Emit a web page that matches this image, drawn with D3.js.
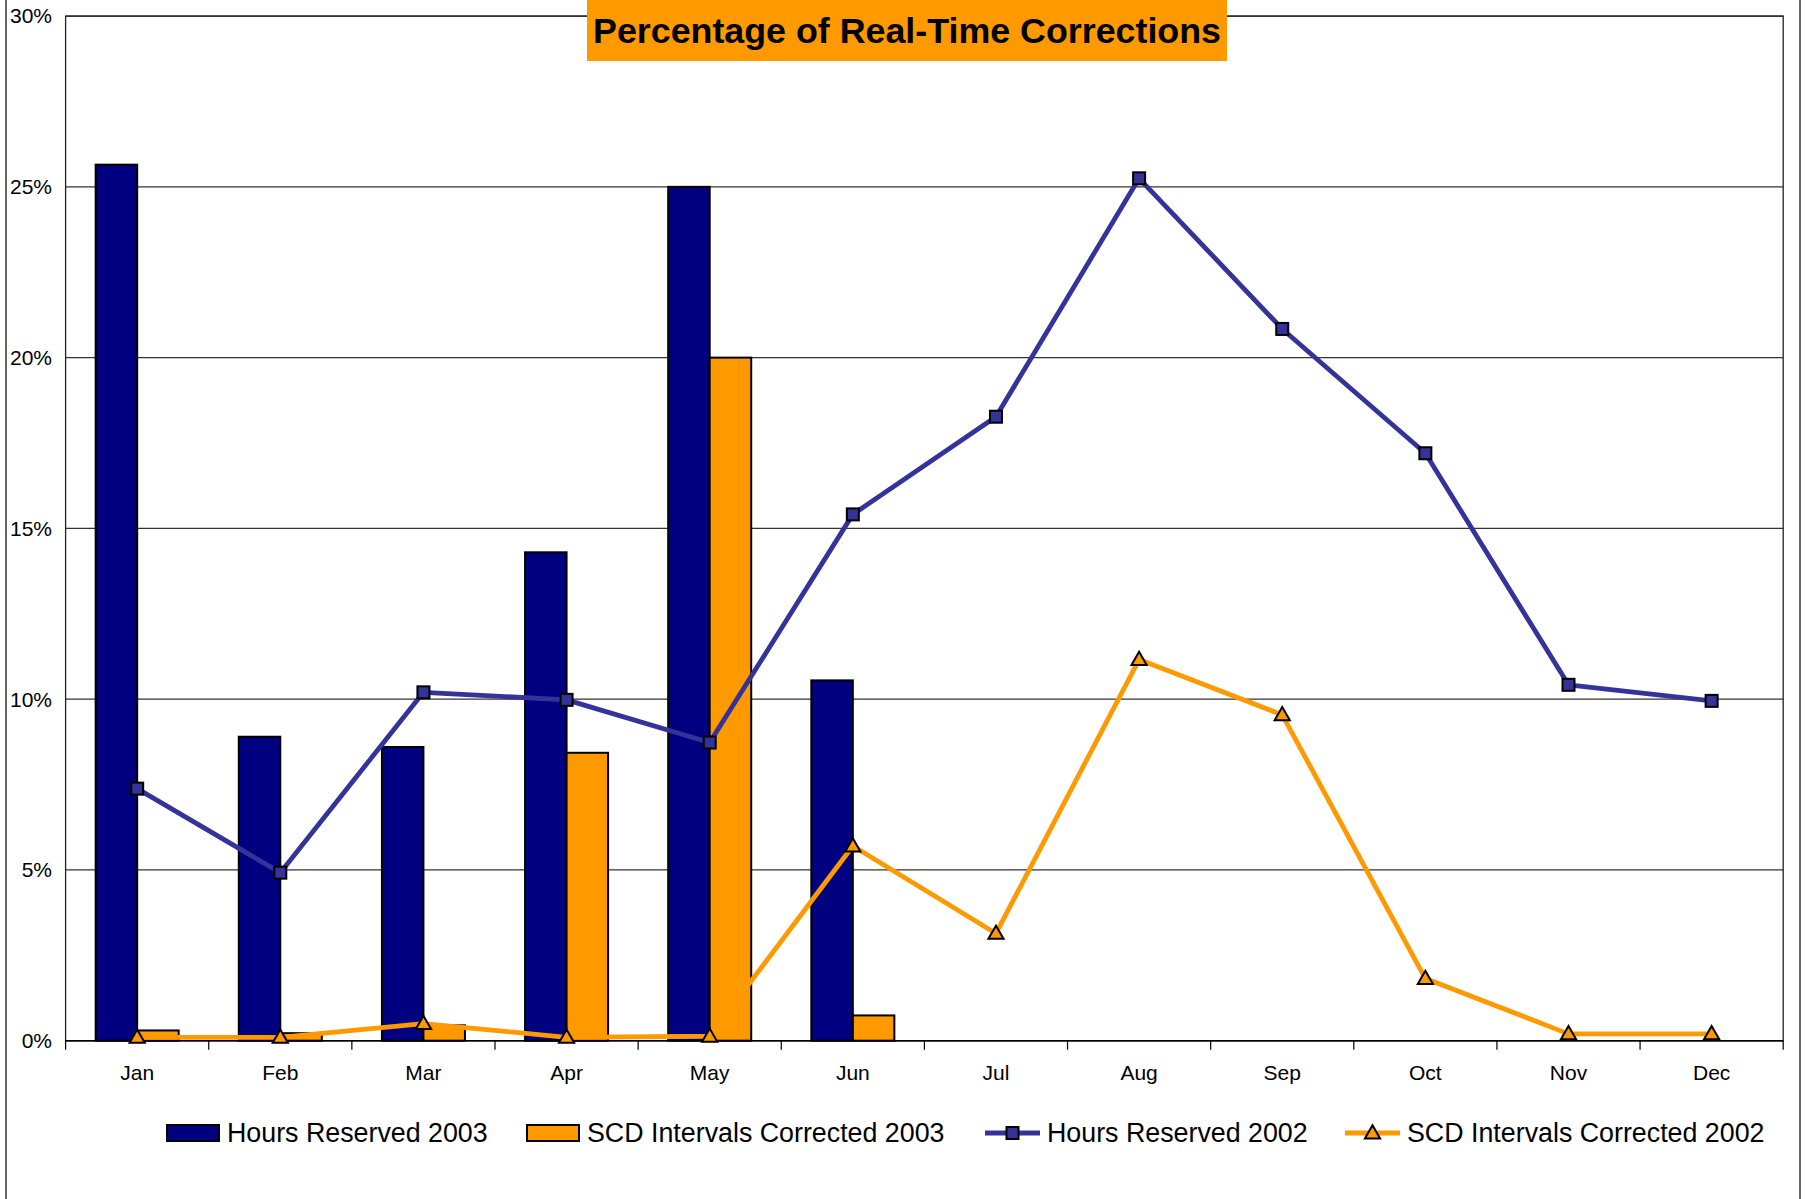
<!DOCTYPE html>
<html>
<head>
<meta charset="utf-8">
<script src="https://cdn.jsdelivr.net/npm/d3@7"></script>
<style>
  body { margin: 0; background: #fff; }
  svg { display: block; font-family: "Liberation Sans", Arial, sans-serif; }
</style>
</head>
<body>
<div class="chart"></div>
<script>
// Data (percent)
const months = ['Jan', 'Feb', 'Mar', 'Apr', 'May', 'Jun', 'Jul', 'Aug', 'Sep', 'Oct', 'Nov', 'Dec']
const hours2003 = [25.65, 8.9, 8.6, 14.3, 25.0, 10.55, null, null, null, null, null, null]
const scd2003 = [0.3, 0.22, 0.45, 8.43, 20.0, 0.74, null, null, null, null, null, null]
const hours2002 = [7.38, 4.92, 10.2, 9.98, 8.73, 15.41, 18.27, 25.25, 20.84, 17.2, 10.42, 9.95]
const scd2002 = [0.1, 0.1, 0.5, 0.1, 0.13, 5.7, 3.14, 11.16, 9.54, 1.82, 0.2, 0.2]
const yTicks = [0, 5, 10, 15, 20, 25, 30]
const legendText = ['Hours Reserved 2003', 'SCD Intervals Corrected 2003', 'Hours Reserved 2002', 'SCD Intervals Corrected 2002']
const chartTitle = 'Percentage of Real-Time Corrections'

/* Configuration */
const width = 1805
const height = 1199
const plot = { left: 65.6, right: 1783.2, top: 16.1, bottom: 1040.7 }
const navy = '#000080'
const orange = '#FF9900'
const blue = '#333399'

const svg = d3.select('.chart')
    .append('svg')
    .attr('width', width)
    .attr('height', height)

// outer chart border (left/right edges only visible)
svg.append('rect')
    .attr('x', 6).attr('y', -5)
    .attr('width', 1794).attr('height', height + 10)
    .attr('fill', 'none')
    .attr('stroke', '#000')
    .attr('stroke-width', 1.2)

const x = d3.scaleBand().domain(months).range([plot.left, plot.right])
const y = d3.scaleLinear().domain([0, 30]).range([plot.bottom, plot.top])
const cx = d => x(d) + x.bandwidth() / 2
const barW = x.bandwidth() * 0.29

// gridlines
svg.append('g')
    .selectAll('line')
    .data(yTicks)
    .join('line')
    .attr('x1', plot.left).attr('x2', plot.right)
    .attr('y1', d => y(d)).attr('y2', d => y(d))
    .attr('stroke', '#333')
    .attr('stroke-width', 1.2)

// plot frame
svg.append('rect')
    .attr('x', plot.left).attr('y', plot.top)
    .attr('width', plot.right - plot.left).attr('height', plot.bottom - plot.top)
    .attr('fill', 'none')
    .attr('stroke', '#222')
    .attr('stroke-width', 1.3)

// y axis labels
svg.append('g')
    .selectAll('text')
    .data(yTicks)
    .join('text')
    .attr('x', 52)
    .attr('y', d => y(d))
    .attr('dy', '0.35em')
    .attr('text-anchor', 'end')
    .attr('font-size', 21)
    .text(d => d + '%')

// x axis ticks and labels
const xAxis = svg.append('g')
    .attr('transform', `translate(0,${plot.bottom})`)
    .call(d3.axisBottom(x).tickSize(0).tickPadding(24))
xAxis.select('.domain').remove()
xAxis.selectAll('text').attr('font-size', 21).attr('font-family', null).attr('fill', '#000')

svg.append('g')
    .selectAll('line')
    .data(d3.range(months.length + 1))
    .join('line')
    .attr('x1', i => plot.left + i * x.step())
    .attr('x2', i => plot.left + i * x.step())
    .attr('y1', plot.bottom)
    .attr('y2', plot.bottom + 9)
    .attr('stroke', '#000')
    .attr('stroke-width', 1.2)

svg.append('line')
    .attr('x1', plot.left).attr('x2', plot.right)
    .attr('y1', plot.bottom).attr('y2', plot.bottom)
    .attr('stroke', '#000').attr('stroke-width', 1.6)

// bars
const barData = months.map((m, i) => ({ m, h: hours2003[i], s: scd2003[i] }))
svg.append('g')
    .selectAll('rect')
    .data(barData.filter(d => d.h != null))
    .join('rect')
    .attr('x', d => cx(d.m) - barW)
    .attr('y', d => y(d.h))
    .attr('width', barW)
    .attr('height', d => y(0) - y(d.h))
    .attr('fill', navy)
    .attr('stroke', '#000')
    .attr('stroke-width', 2)

svg.append('g')
    .selectAll('rect')
    .data(barData.filter(d => d.s != null))
    .join('rect')
    .attr('x', d => cx(d.m))
    .attr('y', d => y(d.s))
    .attr('width', barW)
    .attr('height', d => y(0) - y(d.s))
    .attr('fill', orange)
    .attr('stroke', '#000')
    .attr('stroke-width', 2)

// lines
const line = d3.line().x(d => cx(d.m)).y(d => y(d.v))
const hoursLine = months.map((m, i) => ({ m, v: hours2002[i] }))
const scdLine = months.map((m, i) => ({ m, v: scd2002[i] }))

svg.append('path')
    .datum(scdLine)
    .attr('d', line)
    .attr('fill', 'none')
    .attr('stroke', orange)
    .attr('stroke-width', 4.8)
    .attr('stroke-linejoin', 'round')

svg.append('path')
    .datum(hoursLine)
    .attr('d', line)
    .attr('fill', 'none')
    .attr('stroke', blue)
    .attr('stroke-width', 4.8)
    .attr('stroke-linejoin', 'round')

const tri = d3.symbol().type(d3.symbolTriangle).size(100)

svg.append('g')
    .selectAll('rect')
    .data(hoursLine)
    .join('rect')
    .attr('x', d => cx(d.m) - 6)
    .attr('y', d => y(d.v) - 6)
    .attr('width', 12).attr('height', 12)
    .attr('fill', blue)
    .attr('stroke', '#000')
    .attr('stroke-width', 2)

svg.append('g')
    .selectAll('path')
    .data(scdLine)
    .join('path')
    .attr('d', tri)
    .attr('transform', d => `translate(${cx(d.m)},${y(d.v) + 1})`)
    .attr('fill', orange)
    .attr('stroke', '#000')
    .attr('stroke-width', 2)

// title
const tg = svg.append('g')
tg.append('rect')
    .attr('x', 587).attr('y', 0)
    .attr('width', 640).attr('height', 61)
    .attr('fill', orange)
tg.append('text')
    .attr('x', 907).attr('y', 30)
    .attr('dy', '0.35em')
    .attr('text-anchor', 'middle')
    .attr('font-size', 35.8)
    .attr('font-weight', 'bold')
    .text(chartTitle)

// legend
const legY = 1133
const legX = [167, 527, 985, 1345]
const lg = svg.append('g').attr('font-size', 26.8)

lg.append('rect').attr('x', legX[0]).attr('y', legY - 8).attr('width', 52).attr('height', 16)
    .attr('fill', navy).attr('stroke', '#000').attr('stroke-width', 2)
lg.append('rect').attr('x', legX[1]).attr('y', legY - 8).attr('width', 52).attr('height', 16)
    .attr('fill', orange).attr('stroke', '#000').attr('stroke-width', 2)

lg.append('line').attr('x1', legX[2]).attr('x2', legX[2] + 55).attr('y1', legY).attr('y2', legY)
    .attr('stroke', blue).attr('stroke-width', 4.8)
lg.append('rect').attr('x', legX[2] + 27.5 - 6).attr('y', legY - 6).attr('width', 12).attr('height', 12)
    .attr('fill', blue).attr('stroke', '#000').attr('stroke-width', 2)

lg.append('line').attr('x1', legX[3]).attr('x2', legX[3] + 55).attr('y1', legY).attr('y2', legY)
    .attr('stroke', orange).attr('stroke-width', 4.8)
lg.append('path').attr('d', tri).attr('transform', `translate(${legX[3] + 27.5},${legY + 1})`)
    .attr('fill', orange).attr('stroke', '#000').attr('stroke-width', 2)

lg.selectAll('text')
    .data(legendText)
    .join('text')
    .attr('x', (d, i) => legX[i] + (i < 2 ? 60 : 62))
    .attr('y', legY)
    .attr('dy', '0.35em')
    .text(d => d)
</script>
</body>
</html>
